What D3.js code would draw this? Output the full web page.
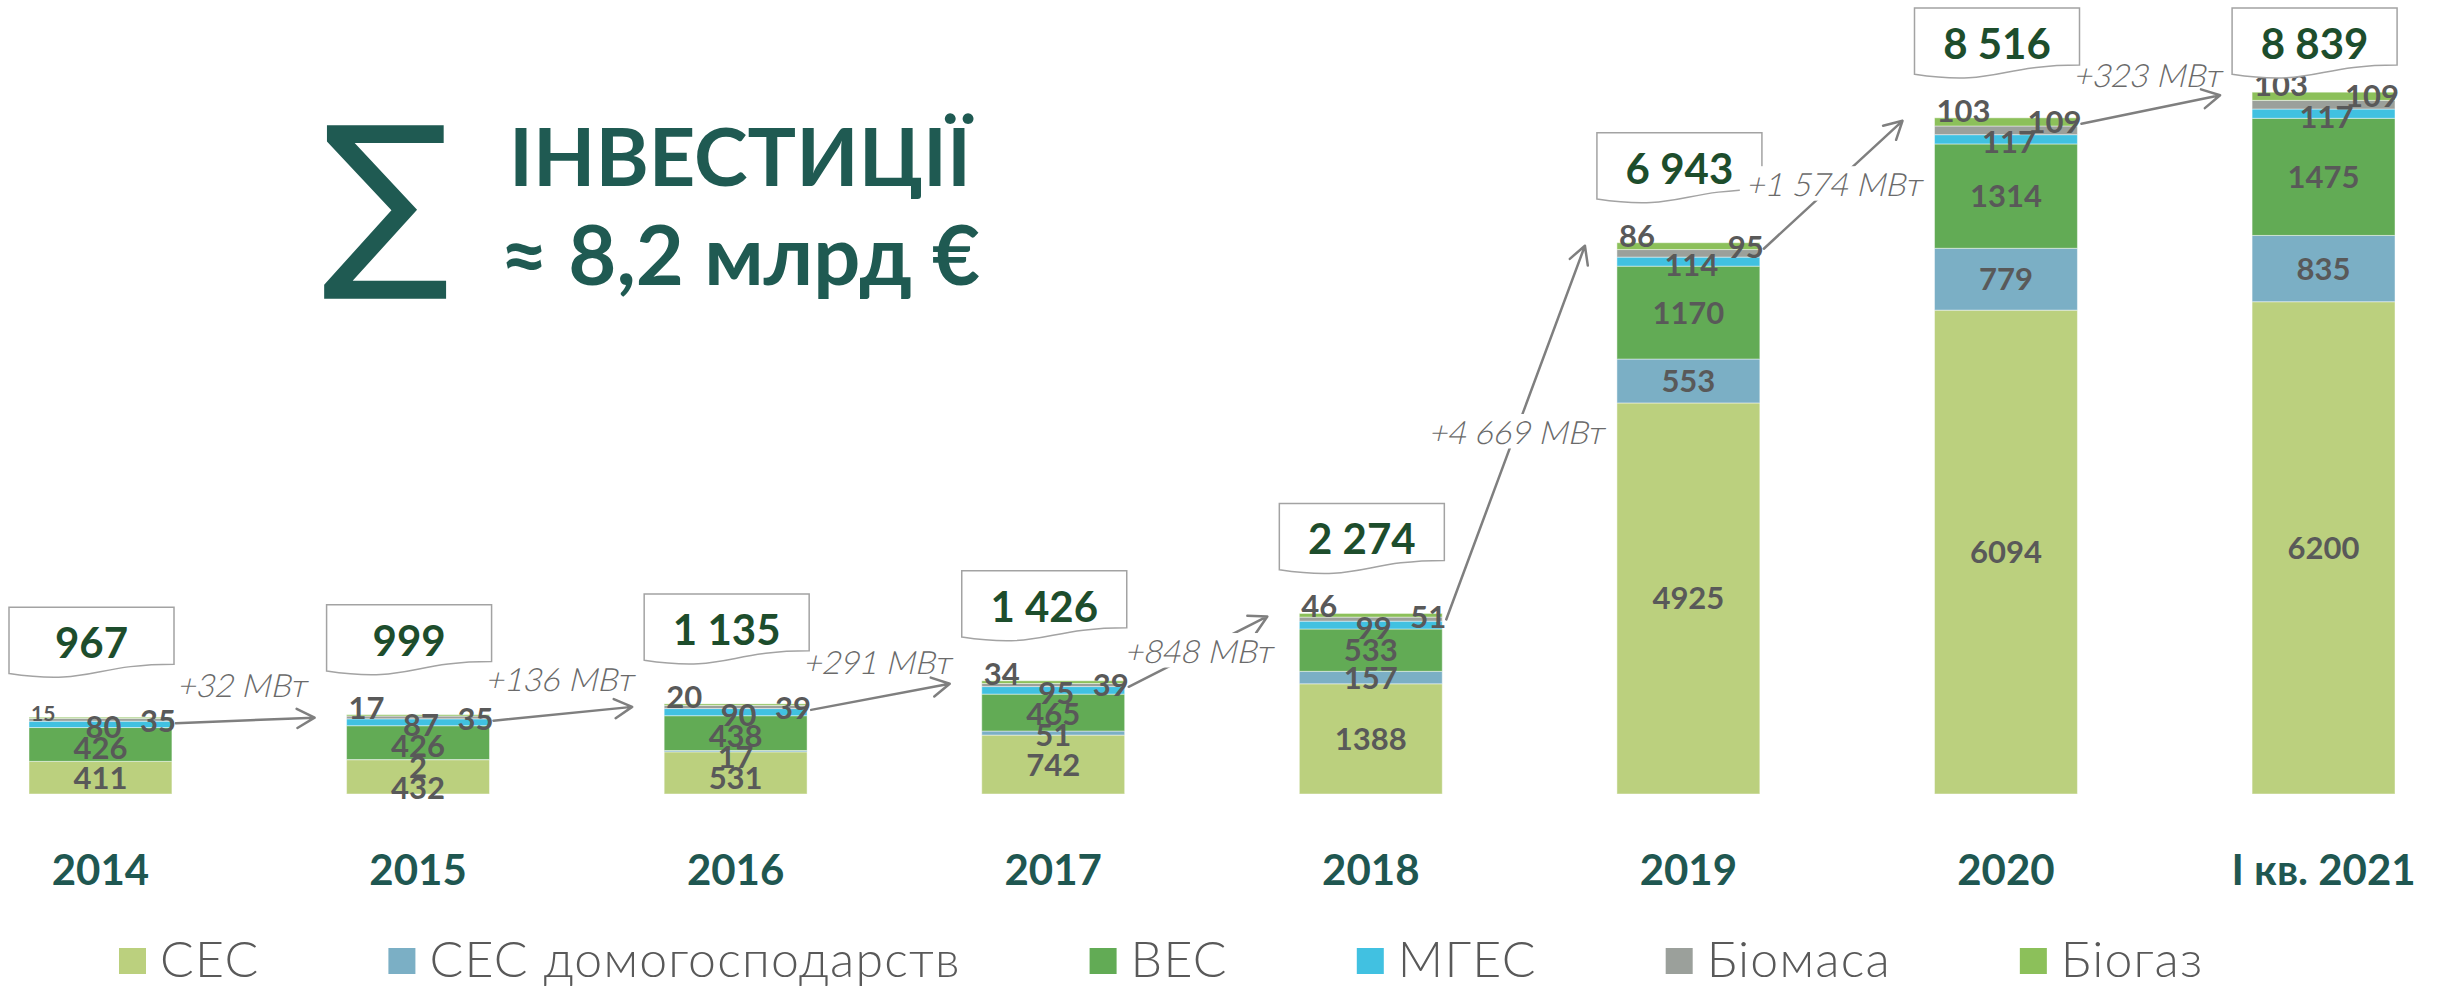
<!DOCTYPE html>
<html>
<head>
<meta charset="utf-8">
<script src="https://cdn.jsdelivr.net/npm/d3@7"></script>
<style>
  body { margin: 0; background: #fff; }
  svg { display: block; font-family: Lato, "Open Sans", sans-serif; }
</style>
</head>
<body>
<div id="chart"></div>
<script>
// categories and series (MW)
var years = ["2014", "2015", "2016", "2017", "2018", "2019", "2020", "I кв. 2021"];
var ses = [411, 432, 531, 742, 1388, 4925, 6094, 6200];
var sesHouse = [0, 2, 17, 51, 157, 553, 779, 835];
var wind = [426, 426, 438, 465, 533, 1170, 1314, 1475];
var hydro = [80, 87, 90, 95, 99, 114, 117, 117];
var biomass = [35, 35, 39, 39, 51, 95, 109, 109];
var biogas = [15, 17, 20, 34, 46, 86, 103, 103];
var growth = [32, 136, 291, 848, 4669, 1574, 323];
var seriesNames = ["СЕС", "СЕС домогосподарств", "ВЕС", "МГЕС", "Біомаса", "Біогаз"];

var colors = ["#bbd07e", "#7bafc5", "#62ab55", "#41c1e1", "#9ba09b", "#8cc05a"];
var keys = ["ses", "house", "wind", "hydro", "biomass", "biogas"];

var W = 2438, H = 988;
var fmt = function (v) { return d3.format(",")(v).replace(/,/g, " "); };

var svg = d3.select("#chart").append("svg").attr("width", W).attr("height", H);

var table = years.map(function (yr, i) {
  return { year: yr, ses: ses[i], house: sesHouse[i], wind: wind[i],
           hydro: hydro[i], biomass: biomass[i], biogas: biogas[i] };
});
var totals = table.map(function (d) {
  return keys.reduce(function (s, k) { return s + d[k]; }, 0);
});
var layers = d3.stack().keys(keys)(table);

var x = d3.scaleBand().domain(years).range([29, 2395]).paddingInner(0.55).paddingOuter(0);
var y = d3.scaleLinear().domain([0, 10000]).range([794, 0]);
var bw = x.bandwidth();

// bars
svg.append("g").selectAll("g")
  .data(layers).enter().append("g")
  .attr("fill", function (d, i) { return colors[i]; })
  .selectAll("rect")
  .data(function (d) { return d; }).enter().append("rect")
  .attr("x", function (d) { return x(d.data.year); })
  .attr("y", function (d) { return y(d[1]); })
  .attr("width", bw)
  .attr("height", function (d) { return y(d[0]) - y(d[1]); })
  .attr("stroke", "#fff").attr("stroke-opacity", 0.45).attr("stroke-width", 1);

// segment labels
function mid(k, i) { return (y(layers[k][i][0]) + y(layers[k][i][1])) / 2; }
var labels = [];
years.forEach(function (yr, i) {
  var x0 = x(yr), cx = x0 + bw / 2, top = y(totals[i]);
  var hy = mid(3, i) + 3;
  var wy = Math.max(mid(2, i), hy + 21);
  var houseY = Math.max(mid(1, i), wy + 21);
  var sy = Math.max(mid(0, i), (sesHouse[i] > 0 ? houseY : wy) + 21);
  labels.push({ t: ses[i], x: cx, y: sy + 11, a: "middle" });
  if (sesHouse[i] > 0) labels.push({ t: sesHouse[i], x: cx, y: houseY + 11, a: "middle" });
  labels.push({ t: wind[i], x: cx, y: wy + 11, a: "middle" });
  labels.push({ t: hydro[i], x: cx + 3, y: hy + 11, a: "middle" });
  labels.push({ t: biomass[i], x: x0 + bw + 4, y: top + 15, a: "end" });
  labels.push({ t: biogas[i], x: x0 + 2, y: top + 4, a: "start", small: i === 0 });
});
svg.append("g").selectAll("text")
  .data(labels).enter().append("text")
  .attr("x", function (d) { return d.x; })
  .attr("y", function (d) { return d.y; })
  .attr("text-anchor", function (d) { return d.a; })
  .attr("font-size", function (d) { return d.small ? 21 : 31; })
  .attr("font-weight", 700)
  .attr("fill", "#595959")
  .text(function (d) { return d.t; });

// year axis labels
svg.append("g").selectAll("text")
  .data(years).enter().append("text")
  .attr("x", function (d) { return x(d) + bw / 2; })
  .attr("y", 885)
  .attr("text-anchor", "middle")
  .attr("font-size", 42).attr("font-weight", 700)
  .attr("fill", "#1f5751")
  .text(function (d) { return d; });

// total boxes (document shape)
function docPath(x0, y0, w, h) {
  return "M" + x0 + "," + y0 + "H" + (x0 + w) + "V" + (y0 + 0.802 * h) +
    "C" + (x0 + w / 2) + "," + (y0 + 0.802 * h) + " " + (x0 + w / 2) + "," + (y0 + 1.1075 * h) +
    " " + x0 + "," + (y0 + 0.934 * h) + "Z";
}
var boxW = 165, boxH = 71;
var boxes = svg.append("g").selectAll("g")
  .data(years).enter().append("g")
  .attr("transform", function (d, i) {
    var bx = x(d) - 20, by = Math.max(8, y(totals[i]) - 110);
    return "translate(" + bx + "," + by + ")";
  });
boxes.append("path")
  .attr("d", docPath(0, 0, boxW, boxH))
  .attr("fill", "#fff").attr("stroke", "#a3a3a3").attr("stroke-width", 1.5);
boxes.append("text")
  .attr("x", boxW / 2).attr("y", 51)
  .attr("text-anchor", "middle")
  .attr("font-size", 42).attr("font-weight", 700)
  .attr("fill", "#1d4d2c")
  .text(function (d, i) { return fmt(totals[i]); });

// growth arrows
var arrows = svg.append("g");
growth.forEach(function (g, i) {
  var sx = x(years[i]) + bw + 4, sy = y(totals[i]) + 6;
  var ex = x(years[i + 1]) - 32, ey = y(totals[i + 1]) + 3;
  var ang = Math.atan2(ey - sy, ex - sx);
  var hl = 20, hw = 0.5;
  var p = "M" + sx + "," + sy + "L" + ex + "," + ey +
    "M" + (ex - hl * Math.cos(ang - hw)) + "," + (ey - hl * Math.sin(ang - hw)) +
    "L" + ex + "," + ey +
    "L" + (ex - hl * Math.cos(ang + hw)) + "," + (ey - hl * Math.sin(ang + hw));
  arrows.append("path").attr("d", p)
    .attr("fill", "none").attr("stroke", "#7f7f7f").attr("stroke-width", 2.5)
    .attr("stroke-linecap", "round").attr("stroke-linejoin", "round");

  var mx = (sx + ex) / 2, my = (sy + ey) / 2;
  var steep = Math.abs(ang) > 0.35;
  var lx = steep ? mx : mx - 4, ly = steep ? my + 11 : my - 23;
  var lg = arrows.append("g").attr("transform", "translate(" + lx + "," + ly + ")");
  // upright glyphs slanted, so the Cyrillic "т" keeps its shape
  var t = lg.append("text")
    .attr("transform", "skewX(-13)")
    .attr("text-anchor", "middle")
    .attr("font-size", 32).attr("font-weight", 300)
    .attr("fill", "#6a6a6a")
    .text("+" + fmt(g) + " МВт");
  if (steep) {
    var bb = t.node().getBBox();
    lg.insert("rect", "text")
      .attr("x", bb.x - 6).attr("y", bb.y + 2)
      .attr("width", bb.width + 12).attr("height", bb.height - 4)
      .attr("fill", "#fff");
  }
});

// title
var title = svg.append("g").attr("fill", "#1f5a52");
title.append("text")
  .attr("x", 386).attr("y", 262)
  .attr("text-anchor", "middle")
  .attr("font-family", "DejaVu Sans")
  .attr("font-size", 190)
  .text("∑");
title.append("text")
  .attr("x", 740).attr("y", 186)
  .attr("text-anchor", "middle")
  .attr("font-size", 81).attr("font-weight", 700)
  .text("ІНВЕСТИЦІЇ");
title.append("text")
  .attr("x", 740).attr("y", 285)
  .attr("text-anchor", "middle")
  .attr("font-size", 83).attr("font-weight", 700)
  .text("≈ 8,2 млрд €");

// legend
var legend = svg.append("g");
var lx = 119;
seriesNames.forEach(function (name, i) {
  legend.append("rect")
    .attr("x", lx).attr("y", 948).attr("width", 27).attr("height", 26)
    .attr("fill", colors[i]);
  var t = legend.append("text")
    .attr("x", lx + 41).attr("y", 977)
    .attr("font-size", 50).attr("font-weight", 300)
    .attr("letter-spacing", 1.2)
    .attr("fill", "#595959")
    .text(name);
  lx += 41 + t.node().getBBox().width + 129;
});
</script>
</body>
</html>
